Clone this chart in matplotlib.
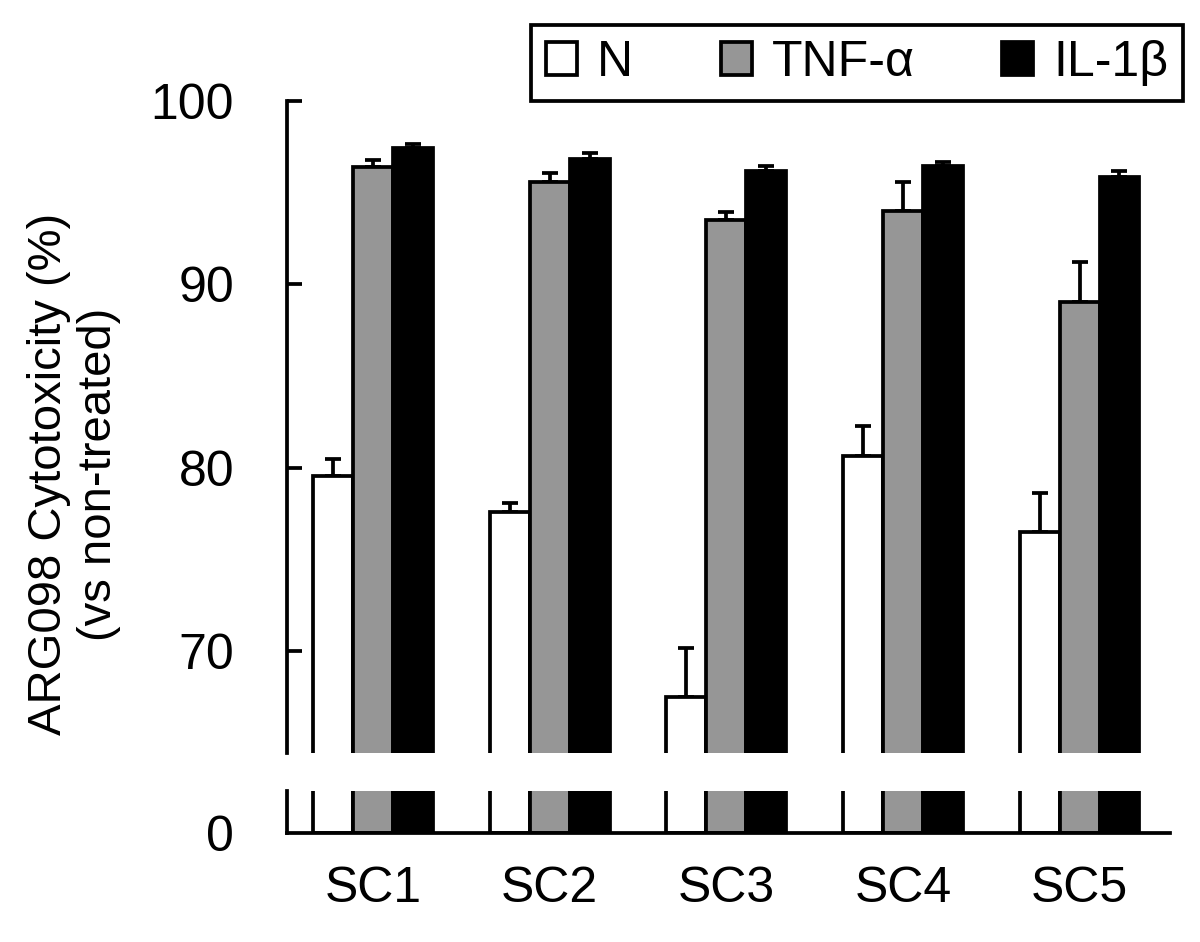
import matplotlib
matplotlib.use('Agg')
import matplotlib.pyplot as plt
from matplotlib.patches import Patch
import numpy as np

plt.rcParams['font.family'] = ['Liberation Sans', 'DejaVu Sans']

# data
groups = ['SC1', 'SC2', 'SC3', 'SC4', 'SC5']
series = ['N', 'TNF-\u03b1', 'IL-1\u03b2']
colors = ['white', '#969696', 'black']
mean_N = [79.55, 77.6, 67.5, 80.65, 76.5]
err_N = [0.95, 0.5, 2.7, 1.65, 2.15]
mean_TNF = [96.42, 95.58, 93.49, 93.98, 89.04]
err_TNF = [0.38, 0.49, 0.47, 1.58, 2.19]
mean_IL1 = [97.44, 96.83, 96.21, 96.48, 95.85]
err_IL1 = [0.22, 0.33, 0.22, 0.19, 0.33]

means = [mean_N, mean_TNF, mean_IL1]
errs = [err_N, err_TNF, err_IL1]

lw = 2.7
fs = 36
W = 0.226

fig = plt.figure(figsize=(12, 9.42), dpi=100)
ax = fig.add_axes([287/1200, 1-753/942, 883/1200, 652/942])
ax2 = fig.add_axes([287/1200, 1-833/942, 883/1200, 42/942])

x = np.arange(len(groups))
for a in (ax, ax2):
    for i in range(3):
        pos = x + (i-1)*W
        a.bar(pos, means[i], W, color=colors[i], edgecolor='black', linewidth=lw, zorder=2)
    a.set_xlim(-0.487, 4.512)
    for s in ['top', 'right']:
        a.spines[s].set_visible(False)
    a.spines['left'].set_linewidth(lw)
    a.spines['bottom'].set_linewidth(lw)

# error bars, upper side only
for i in range(3):
    pos = x + (i-1)*W
    ax.errorbar(pos, means[i], yerr=[np.zeros(5), errs[i]], fmt='none', ecolor='black',
                elinewidth=lw, capsize=5.5, capthick=lw, zorder=1)

ax.set_ylim(64.46, 100)
ax.set_yticks([70, 80, 90, 100])
ax.spines['bottom'].set_visible(False)
ax.set_xticks([])
ax.tick_params(axis='y', direction='in', length=11, width=lw, labelsize=fs, pad=38)

ax2.set_ylim(0, 5)
ax2.set_yticks([0])
ax2.tick_params(axis='y', length=0, labelsize=fs, pad=38)
ax2.set_xticks(x)
ax2.set_xticklabels(groups)
ax2.tick_params(axis='x', length=0, labelsize=fs, pad=24)

fig.text(74/1200, 1-474/942, 'ARG098 Cytotoxicity (%)\n(vs non-treated)', rotation=90,
         ha='center', va='center', fontsize=34, multialignment='center', linespacing=1.2)

handles = [Patch(facecolor=c, edgecolor='black', linewidth=lw) for c in colors]
leg = fig.legend(handles, series, loc='upper right', bbox_to_anchor=(1183/1200, 1-25/942),
                 ncol=3, fontsize=fs, frameon=True, fancybox=False, edgecolor='black',
                 framealpha=1, handlelength=0.62, handleheight=0.62, handletextpad=0.4,
                 columnspacing=1.75, borderpad=0.3, borderaxespad=0)
leg.get_frame().set_linewidth(lw)

plt.savefig('out.png', dpi=100)
